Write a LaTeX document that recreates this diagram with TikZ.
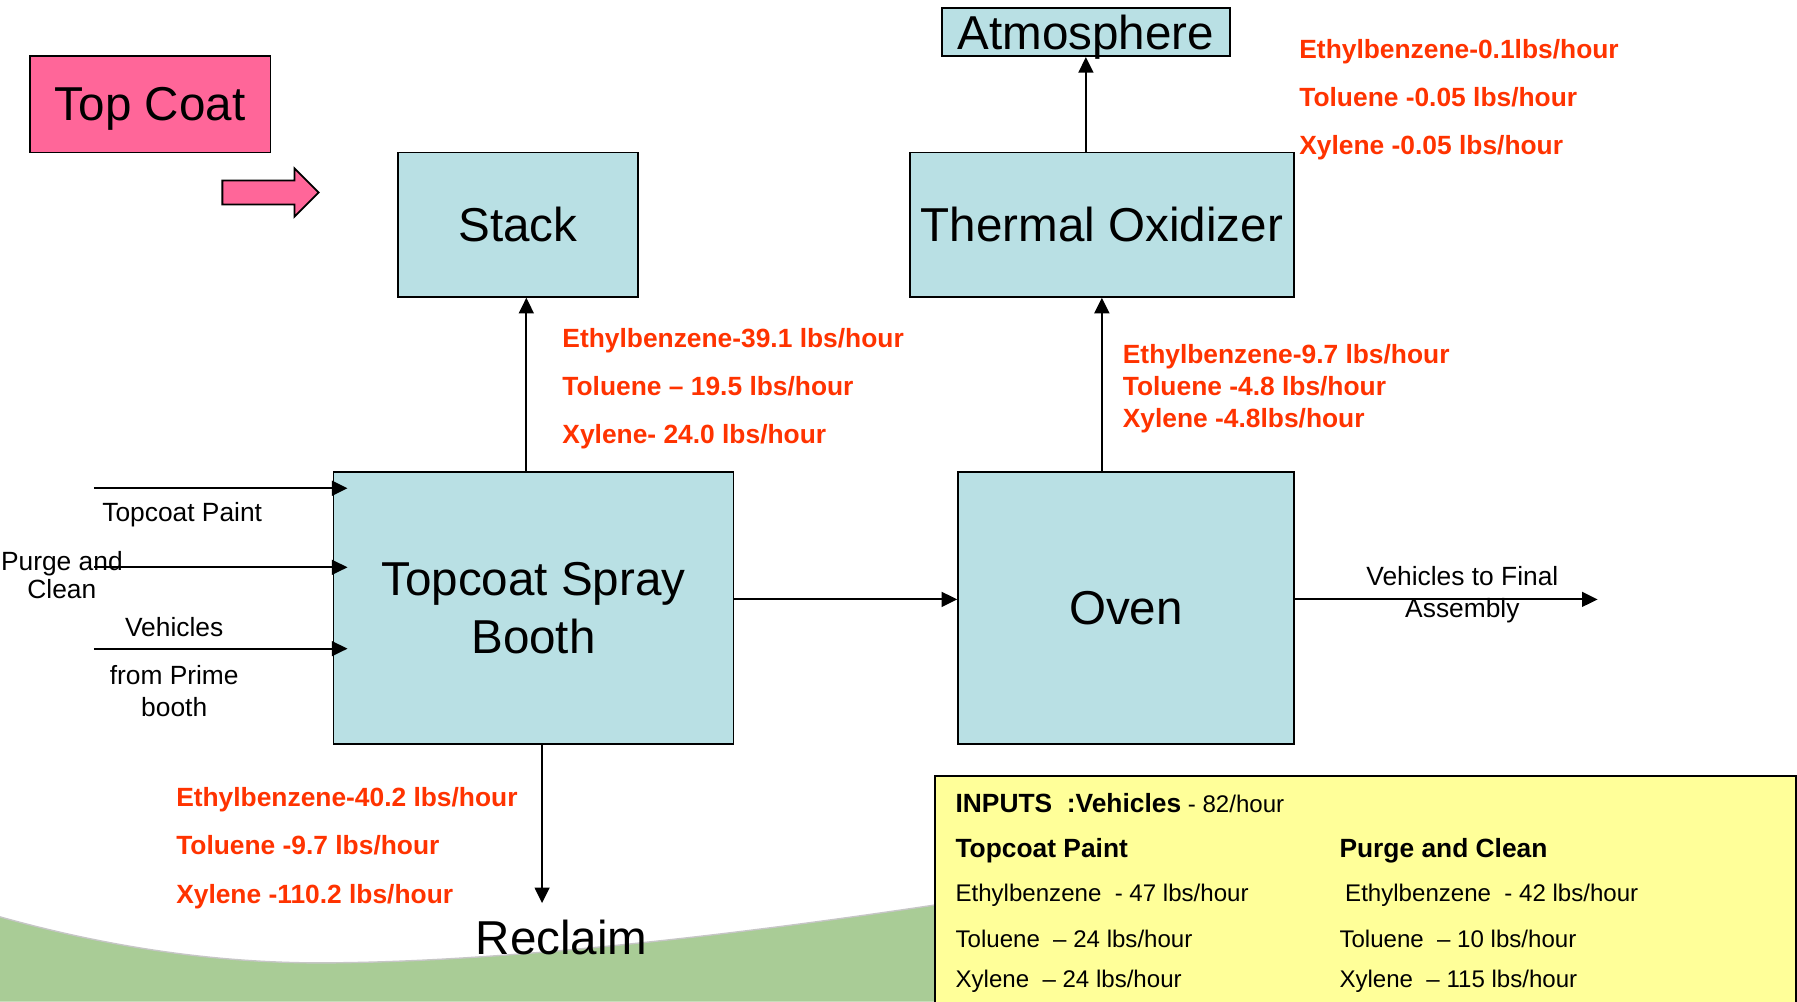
\documentclass[tikz,border=0pt]{standalone}
\usepackage{fontspec}
\setmainfont{Liberation Sans}
\usepackage{tikz}
\usetikzlibrary{%
  arrows.meta,%
  calc,%
  positioning% wg. " of "
}
\definecolor{boxblue}{HTML}{B9E0E4}
\definecolor{coatpink}{HTML}{FF6699}
\definecolor{emitred}{HTML}{FF3300}
\definecolor{notefill}{HTML}{FFFF99}
\definecolor{ground}{HTML}{A9CC96}

\begin{document}
\begin{tikzpicture}[
    x=0.5pt,y=-0.5pt,
    >={Triangle[length=6.8pt,width=6.5pt]},
    line width=0.8pt,line join=miter,
    bigfont/.style={font=\fontsize{20.75}{25}\selectfont},
    process/.style={rectangle,draw,fill=boxblue,bigfont,align=center,inner sep=0pt},
    flow/.style={->},
    smalltext/.style={inner sep=0pt,font=\fontsize{11.5}{14}\selectfont},
    emission/.style={anchor=west,inner sep=0pt,align=left,text=emitred,
        font=\fontsize{11.5}{21}\selectfont\bfseries},
    notehead/.style={anchor=west,inner sep=0pt,font=\fontsize{11.5}{14}\selectfont\bfseries},
    notetext/.style={anchor=west,inner sep=0pt,font=\fontsize{10.5}{13}\selectfont}
  ]

    \clip (0,0) rectangle (1568,874);
    \fill[white] (0,0) rectangle (1568,874);

    % background hill
    \fill[ground] (0,800) .. controls (100,828) and (200,842) .. (299,840)
        .. controls (450,838) and (650,815) .. (840,786) -- (840,874) -- (0,874) -- cycle;
    \draw[gray!45,line width=0.6pt] (0,800) .. controls (100,828) and (200,842) .. (299,840)
        .. controls (450,838) and (650,815) .. (840,786);

    \node (topcoat) [rectangle,draw,fill=coatpink,bigfont,text depth=0pt,
        minimum width=105pt,minimum height=42pt] at (131,91) {Top Coat};
    \draw[fill=coatpink] (194,157.5) -- (257,157.5) -- (257,147) -- (278,168)
        -- (257,189) -- (257,178.5) -- (194,178.5) -- cycle;

    \node (stack)    [process,minimum width=105pt,minimum height=63pt]     at (452,196)     {Stack};
    \node (oxidizer) [process,minimum width=167.5pt,minimum height=63pt]   at (961.5,196)   {Thermal Oxidizer};
    \node (atmos)    [process,text depth=0pt,minimum width=125.5pt,minimum height=21pt] at (947.5,28) {Atmosphere};
    \node (booth)    [process,minimum width=174.5pt,minimum height=118.5pt] at (465.5,530.5) {Topcoat Spray\\Booth};
    \node (oven)     [process,minimum width=146.5pt,minimum height=118.5pt] at (982.5,530.5) {Oven};
    \node (reclaim)  [bigfont,inner sep=0pt] at (490,818) {Reclaim};

    \coordinate (final)     at (1394,523);
    \coordinate (toreclaim) at (473,788);
    \coordinate (paintin)   at (82,426);
    \coordinate (purgein)   at (82,495);
    \coordinate (vehin)     at (82,566);

    \draw[flow] (booth.93) -- (booth.93 |- stack.south);
    \draw[flow] (oven.100) -- (oven.100 |- oxidizer.south);
    \draw[flow] (atmos.south |- oxidizer.north) -- (atmos.south);
    \draw[flow] (booth.east |- final) -- (oven.west |- final);
    \draw[flow] (oven.east |- final) -- (final);
    \draw[flow] (booth.south -| toreclaim) -- (toreclaim);
    \draw[flow,shorten >=-6.5pt] (paintin) -- (paintin -| booth.west);
    \draw[flow,shorten >=-6.5pt] (purgein) -- (purgein -| booth.west);
    \draw[flow,shorten >=-6.5pt] (vehin)   -- (vehin -| booth.west);

    \node (paintlbl)  [smalltext] at (159,449) {Topcoat Paint};
    \node (purgelbl)  [smalltext,align=center,font=\fontsize{11.5}{12}\selectfont] at (54,502) {Purge and\\Clean};
    \node (vehlbl)    [smalltext] at (152,547) {Vehicles};
    \node (primelbl)  [smalltext,align=center] at (152,603) {from Prime\\booth};
    \node (finallbl)  [smalltext,align=center] at (1276,519) {Vehicles to Final\\Assembly};

    \node (stackem)   [emission] at (490,339)
        {Ethylbenzene-39.1 lbs/hour\\Toluene – 19.5 lbs/hour\\Xylene- 24.0 lbs/hour};
    \node (atmosem)   [emission] at (1133,87)
        {Ethylbenzene-0.1lbs/hour\\Toluene -0.05 lbs/hour\\Xylene -0.05 lbs/hour};
    \node (ovenem)    [emission,font=\fontsize{11.5}{14}\selectfont\bfseries] at (979,339)
        {Ethylbenzene-9.7 lbs/hour\\Toluene -4.8 lbs/hour\\Xylene -4.8lbs/hour};
    \node (reclaimem) [emission] at (153,740)
        {Ethylbenzene-40.2 lbs/hour\\Toluene -9.7 lbs/hour\\Xylene -110.2 lbs/hour};

    % inputs note
    \node (inputs) [draw,fill=notefill,line width=0.9pt,anchor=north west,
        minimum width=375.5pt,minimum height=120pt] at (815,676) {};
    \node (inhead)   [notehead] at (833,701)
        {INPUTS\ \ :Vehicles\fontsize{10.5}{13}\selectfont\mdseries{} - 82/hour};
    \node (paintcol) [notehead] at (833,742)  {Topcoat Paint};
    \node (purgecol) [notehead] at (1168,742) {Purge and Clean};
    \node (painteb)  [notetext] at (833,781)  {Ethylbenzene\ \ - 47 lbs/hour};
    \node (painttol) [notetext] at (833,819)  {Toluene\ \ – 24 lbs/hour};
    \node (paintxyl) [notetext] at (833,856)  {Xylene\ \ – 24 lbs/hour};
    \node (purgeeb)  [notetext] at (1173,781) {Ethylbenzene\ \ - 42 lbs/hour};
    \node (purgetol) [notetext] at (1168,819) {Toluene\ \ – 10 lbs/hour};
    \node (purgexyl) [notetext] at (1168,856) {Xylene\ \ – 115 lbs/hour};
\end{tikzpicture}
\end{document}
